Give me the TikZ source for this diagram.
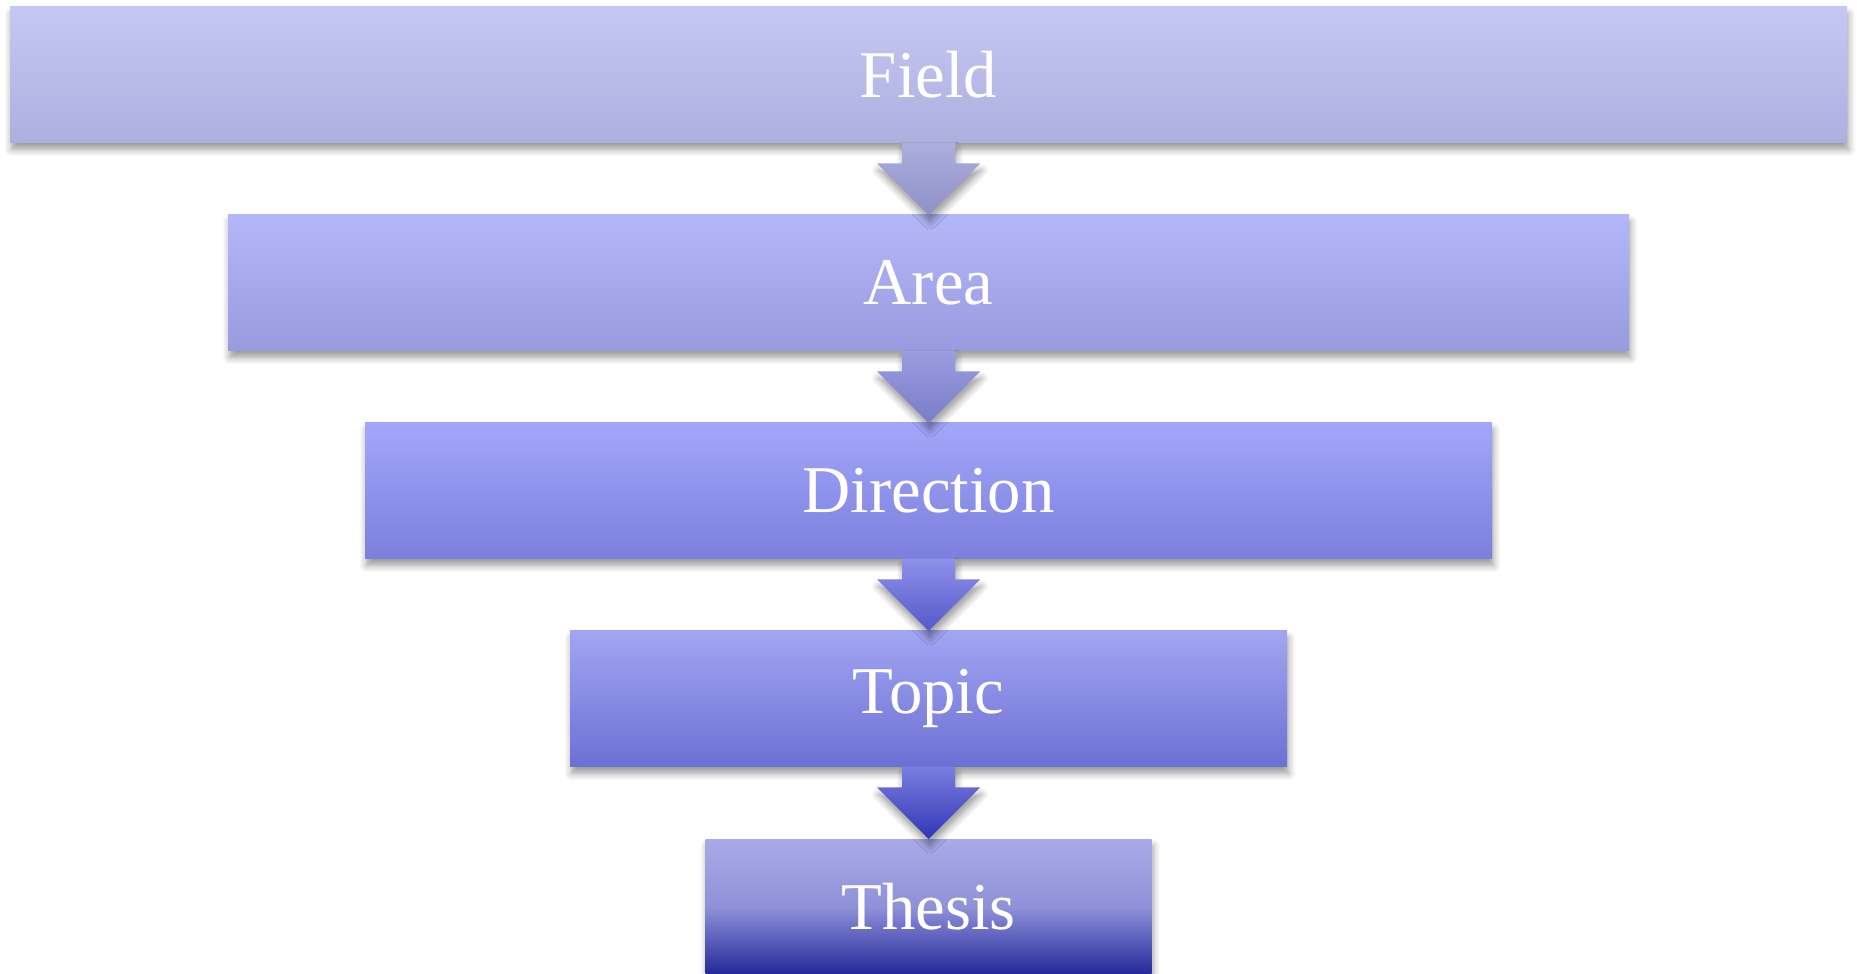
\documentclass[tikz,border=0pt]{standalone}
\usepackage{fontspec}
\setmainfont{Liberation Serif}
\usetikzlibrary{positioning}
\usetikzlibrary{shadows.blur}

\definecolor{fieldtop}{HTML}{C6C7F3}
\definecolor{fieldbot}{HTML}{ADAFDF}
\definecolor{areatop}{HTML}{B3B6F7}
\definecolor{areabot}{HTML}{989BDF}
\definecolor{dirtop}{HTML}{A3A6FA}
\definecolor{dirbot}{HTML}{7C7FDC}
\definecolor{topictop}{HTML}{A2A5F1}
\definecolor{topicbot}{HTML}{6C70D4}
\definecolor{thesistop}{HTML}{A9AAE6}
\definecolor{thesismid}{HTML}{8F91D9}
\definecolor{thesisbot}{HTML}{22289A}
\definecolor{arrtop1}{HTML}{ACAEDD}
\definecolor{arrbot1}{HTML}{8E91C8}
\definecolor{arrtop2}{HTML}{9A9DE0}
\definecolor{arrbot2}{HTML}{7A7DC8}
\definecolor{arrtop3}{HTML}{8E91E8}
\definecolor{arrbot3}{HTML}{5559CC}
\definecolor{arrtop4}{HTML}{7A7EE0}
\definecolor{arrbot4}{HTML}{3036B4}

\begin{document}
\begin{tikzpicture}[every node/.style={outer sep=0pt},
 softshadow/.style={blur shadow={shadow xshift=0.15mm,shadow yshift=-0.7mm,
  shadow blur steps=6,shadow blur radius=0.7mm,shadow opacity=40}},
 level/.style={softshadow,minimum height=1.355cm,inner sep=0pt,text=white,
  font=\fontsize{19}{22}\selectfont},
 blockarrow/.style={softshadow,draw=none}]

  \useasboundingbox (0,0) rectangle (18.57,-9.74);

  \node[level,anchor=north,minimum width=18.37cm,top color=fieldtop,
   bottom color=fieldbot] (field) at (9.285,-0.07) {Field};
  \node[level,below=0.725cm of field,minimum width=14.01cm,top color=areatop,
   bottom color=areabot] (area) {Area};
  \node[level,below=0.725cm of area,minimum width=11.27cm,top color=dirtop,
   bottom color=dirbot] (dir) {Direction};
  \node[level,below=0.725cm of dir,minimum width=7.17cm,top color=topictop,
   bottom color=topicbot] (topic) {Topic};
  \node[level,below=0.725cm of topic,minimum width=4.46cm,top color=thesistop,
   bottom color=thesisbot,middle color=thesismid] (thesis) {Thesis};

  \foreach \A/\B/\C in {field/area/1,area/dir/2,dir/topic/3,topic/thesis/4}
  {\shade[blockarrow,top color=arrtop\C,bottom color=arrbot\C]
    (\B.north) -- ++(-0.515,0.515) -- ++(0.25,0) |- (\A.south)
    -| ++(0.265,-0.21) -- ++(0.25,0) -- cycle;
  }

\end{tikzpicture}
\end{document}
